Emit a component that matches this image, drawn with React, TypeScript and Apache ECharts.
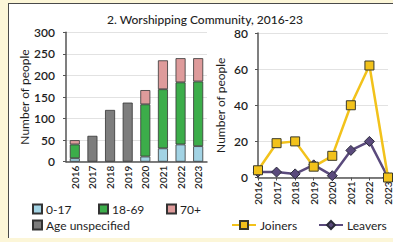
import React, { useEffect, useRef } from "react";
import * as echarts from "echarts";

const years = ["2016", "2017", "2018", "2019", "2020", "2021", "2022", "2023"];
const age0to17 = [8, null, null, null, 12, 31, 40, 36];
const age18to69 = [32, null, null, null, 121, 137, 144, 150];
const age70plus = [10, null, null, null, 33, 67, 56, 54];
const ageUnspecified = [null, 60, 120, 137, null, null, null, null];
const joiners = [4, 19, 20, 6, 12, 40, 62, 0];
const leavers = [3, 3, 2, 7, 1, 15, 20, 0];
const leftTicks = { min: 0, max: 300, interval: 50 };
const rightTicks = { min: 0, max: 80, interval: 20 };

const FONT = "Lato";
const TXT = "#1e1e1e";
const AX = "#555555";

export default function App() {
  const ref = useRef<HTMLDivElement>(null);
  useEffect(() => {
    document.body.style.margin = "0";
    const chart = echarts.init(ref.current!, null, { renderer: "svg" });
    const barBase = {
      type: "bar",
      stack: "age",
      barWidth: 10,
      xAxisIndex: 0,
      yAxisIndex: 0,
    };
    const legendBase = {
      itemWidth: 9,
      itemHeight: 9,
      itemGap: 0,
      icon: "rect",
      textStyle: { fontFamily: FONT, fontSize: 12, color: TXT, padding: [0, 0, 0, -1] },
      padding: 0,
    };
    const xAxisBase = {
      type: "category",
      data: years,
      axisLine: { lineStyle: { color: AX, width: 1.5 } },
      axisTick: { lineStyle: { color: AX }, length: 3 },
      axisLabel: { rotate: 90, fontFamily: FONT, fontSize: 10, color: TXT, margin: 4, fontWeight: 600 },
    };
    const yAxisBase = {
      type: "value",
      name: "Number of people",
      nameLocation: "middle",
      nameGap: 20,
      nameTextStyle: { fontFamily: FONT, fontSize: 12, color: TXT },
      axisLine: { show: true, lineStyle: { color: AX, width: 1.5 } },
      axisTick: { show: true, length: 3, lineStyle: { color: AX } },
      splitLine: { lineStyle: { color: "#e2e2e2" } },
      axisLabel: { fontFamily: FONT, fontSize: 12, color: TXT, fontWeight: 600 },
    };
    chart.setOption({
      animation: false,
      title: {
        text: "2. Worshipping Community, 2016-23",
        left: 200,
        textAlign: "center",
        top: 8,
        textStyle: { fontFamily: FONT, fontSize: 12, fontWeight: 500, color: TXT },
      },
      grid: [
        { left: 66, top: 32.3, width: 141, height: 129.4 },
        { left: 258, top: 33, width: 131, height: 144.5 },
      ],
      xAxis: [
        { ...xAxisBase, gridIndex: 0, boundaryGap: true },
        { ...xAxisBase, gridIndex: 1, boundaryGap: false },
      ],
      yAxis: [
        { ...yAxisBase, gridIndex: 0, ...leftTicks, nameGap: 35, axisLabel: { ...yAxisBase.axisLabel, margin: 11 } },
        { ...yAxisBase, gridIndex: 1, ...rightTicks, nameGap: 32, axisLabel: { ...yAxisBase.axisLabel, margin: 10 } },
      ],
      legend: [
        { ...legendBase, left: 32, top: 203, data: ["0-17"] },
        { ...legendBase, left: 98, top: 203, data: ["18-69"] },
        { ...legendBase, left: 166, top: 203, data: ["70+"] },
        { ...legendBase, left: 32, top: 219, data: ["Age unspecified"] },
        { ...legendBase, icon: undefined, itemWidth: 24, itemHeight: 10, left: 231, top: 219, data: ["Joiners"] },
        { ...legendBase, icon: undefined, itemWidth: 24, itemHeight: 10, left: 318, top: 219, data: ["Leavers"] },
      ],
      series: [
        { ...barBase, name: "0-17", data: age0to17, itemStyle: { color: "#a2d3e4", borderColor: "#333", borderWidth: 0.8 } },
        { ...barBase, name: "18-69", data: age18to69, itemStyle: { color: "#3cad4a", borderColor: "#333", borderWidth: 0.8 } },
        { ...barBase, name: "70+", data: age70plus, itemStyle: { color: "#de9b9b", borderColor: "#333", borderWidth: 0.8 } },
        { ...barBase, name: "Age unspecified", data: ageUnspecified, itemStyle: { color: "#7d7d7d", borderColor: "#333", borderWidth: 0.8 } },
        {
          type: "line",
          name: "Leavers",
          xAxisIndex: 1,
          yAxisIndex: 1,
          data: leavers,
          clip: false,
          symbol: "diamond",
          symbolSize: 10,
          z: 3,
          lineStyle: { color: "#5a4a7c", width: 2.5 },
          itemStyle: { color: "#5a4a7c", borderColor: "#2a2a3a", borderWidth: 1 },
        },
        {
          type: "line",
          name: "Joiners",
          xAxisIndex: 1,
          yAxisIndex: 1,
          data: joiners,
          clip: false,
          symbol: "rect",
          symbolSize: 9,
          z: 4,
          lineStyle: { color: "#f2c21b", width: 2.5 },
          itemStyle: { color: "#f2c21b", borderColor: "#3a3a2a", borderWidth: 1 },
        },
      ],
    });
    return () => chart.dispose();
  }, []);
  return (
    <div style={{ position: "fixed", left: 0, top: 0, width: 393, height: 242, background: "#fcf6d8", overflow: "hidden" }}>
      <div
        style={{
          position: "absolute",
          left: 8,
          top: 3,
          width: 400,
          height: 234,
          background: "#ffffff",
          borderLeft: "1px solid #4a4a4a",
          borderTop: "1px solid #4a4a4a",
        }}
      />
      <div ref={ref} style={{ position: "absolute", left: 0, top: 0, width: 393, height: 242 }} />
    </div>
  );
}
